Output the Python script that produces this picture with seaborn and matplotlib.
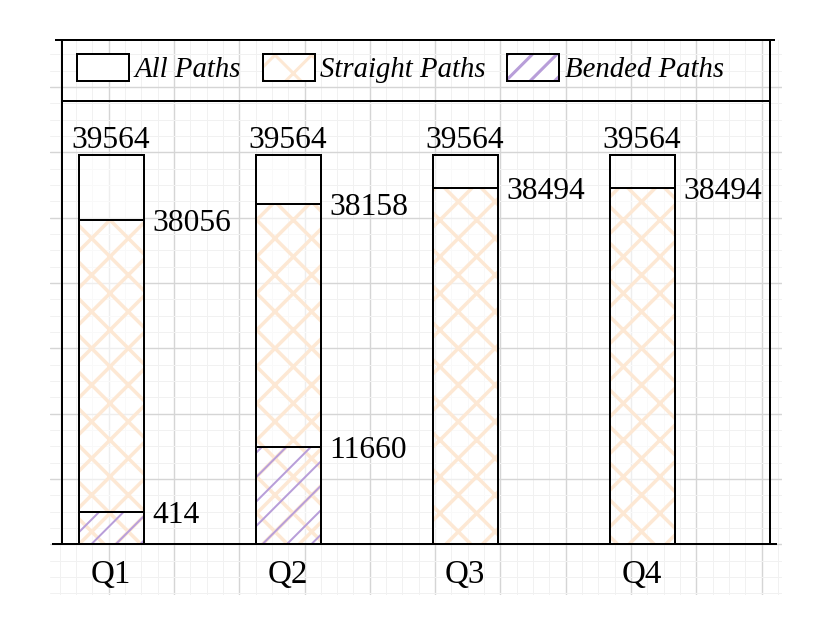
"""
Path counts per quadrant: all / straight / bended paths drawn as overlaid bars.
"""

import numpy as np
import matplotlib
matplotlib.use("Agg")
import matplotlib.pyplot as plt
from matplotlib.patches import Patch, Rectangle
from matplotlib.ticker import MultipleLocator
import seaborn as sns

# data
quarters = ["Q1", "Q2", "Q3", "Q4"]
all_paths = [39564, 39564, 39564, 39564]
straight_paths = [38056, 38158, 38494, 38494]
bended_paths = [414, 11660, 0, 0]

# figure is laid out in pixels; PT converts a pixel size to points
DPI = 220
W, H = 830, 633
PT = 72 / DPI

sns.set_style("white")
plt.rcParams["font.family"] = ["Liberation Serif", "DejaVu Serif"]
plt.rcParams["text.color"] = "black"
plt.rcParams["xtick.color"] = "black"
plt.rcParams["axes.labelcolor"] = "black"

EDGE = 2 * PT
ORANGE = "#fde8d4"
PURPLE = "#b89ed9"
FS = 31.5 * PT

fig = plt.figure(figsize=(W / DPI, H / DPI), dpi=DPI)


def px_axes(left, top, right, bottom):
    return [left / W, (H - bottom) / H, (right - left) / W, (bottom - top) / H]


# graph-paper background behind the chart
bg = fig.add_axes(px_axes(50, 40, 782, 595), zorder=0)
bg.set_xlim(50, 782)
bg.set_ylim(595, 40)
bg.xaxis.set_major_locator(MultipleLocator(65.3, offset=43.3))
bg.xaxis.set_minor_locator(MultipleLocator(65.3 / 4, offset=43.3 % (65.3 / 4)))
bg.yaxis.set_major_locator(MultipleLocator(65.3, offset=21.8))
bg.yaxis.set_minor_locator(MultipleLocator(65.3 / 4, offset=21.8 % (65.3 / 4)))
bg.grid(which="major", color="#d5d5d5", linewidth=1.4 * PT)
bg.grid(which="minor", color="#f1f1f1", linewidth=1.0 * PT)
bg.tick_params(which="both", length=0, labelbottom=False, labelleft=False)
for s in bg.spines.values():
    s.set_visible(False)
bg.set_facecolor("none")

# main chart
ax = fig.add_axes(px_axes(62, 40, 770, 544), zorder=1)
ax.set_facecolor("none")

BAR_W = 0.367


def draw_layer(values, face, edge, hatch=None, hatch_lw=3.0):
    n0 = len(ax.patches)
    with plt.rc_context({"hatch.linewidth": hatch_lw * PT}):
        sns.barplot(x=quarters, y=values, color="white", width=BAR_W,
                    errorbar=None, ax=ax, hatch=hatch, edgecolor=edge,
                    linewidth=0 if hatch else EDGE, saturation=1)
    bars = list(ax.patches[n0:])
    for p in bars:
        p.set_facecolor(face)
        if hatch:
            if hasattr(p, "set_hatch_linewidth"):
                p.set_hatch_linewidth(hatch_lw * PT)
            ax.add_patch(Rectangle(p.get_xy(), p.get_width(), p.get_height(),
                                   fill=False, edgecolor="black", linewidth=EDGE))


draw_layer(all_paths, (1, 1, 1, 0.6), "black")
draw_layer(straight_paths, "none", ORANGE, hatch="xx", hatch_lw=3.5)
draw_layer([b if b > 0 else np.nan for b in bended_paths], "none", PURPLE,
           hatch="///", hatch_lw=2.0)

# the y scale of the original is not linear: map each value to its drawn height (px)
knot_vals = sorted(set(all_paths + straight_paths + bended_paths))
knot_px = [0, 32, 97, 324, 340, 356, 389]
knot_vals = knot_vals + [knot_vals[-1] + 6000]
knot_px = knot_px + [530]


def fwd(v):
    return np.interp(v, knot_vals, knot_px)


def inv(p):
    return np.interp(p, knot_px, knot_vals)


ax.set_yscale("function", functions=(fwd, inv))
ax.set_ylim(0, inv(504))
ax.set_xlim(-0.277, 3.723)
ax.set_yticks([])
ax.set_xlabel("")
ax.set_ylabel("")
ax.tick_params(axis="x", length=0, pad=16 * PT, labelsize=33 * PT)

# frame: side spines plus longer top/bottom rules
for side in ["top", "bottom"]:
    ax.spines[side].set_visible(False)
for side in ["left", "right"]:
    ax.spines[side].set_linewidth(EDGE)
    ax.spines[side].set_color("black")
ax.plot([-7 / 708, 713 / 708], [1, 1], transform=ax.transAxes, color="black",
        linewidth=EDGE, clip_on=False, solid_capstyle="butt")
ax.plot([-10 / 708, 715 / 708], [0, 0], transform=ax.transAxes, color="black",
        linewidth=EDGE, clip_on=False, solid_capstyle="butt")
ax.plot([0, 1], [443 / 504, 443 / 504], transform=ax.transAxes, color="black",
        linewidth=EDGE, clip_on=False, solid_capstyle="butt")

# value labels
for i, v in enumerate(all_paths):
    ax.annotate(f"{v}", xy=(i, v), xytext=(0, 7 * PT), textcoords="offset points",
                ha="center", va="baseline", fontsize=FS)
for series in (straight_paths, bended_paths):
    for i, v in enumerate(series):
        if v <= 0:
            continue
        ax.annotate(f"{v}", xy=(i + BAR_W / 2, v), xytext=(9 * PT, -11 * PT),
                    textcoords="offset points", ha="left", va="baseline", fontsize=FS)

# legend
outline = dict(facecolor="none", edgecolor="black", linewidth=EDGE)
handles = [
    Patch(facecolor="white", edgecolor="black", linewidth=EDGE),
    (Patch(facecolor="white", edgecolor=ORANGE, hatch="xx", linewidth=0), Patch(**outline)),
    (Patch(facecolor="white", edgecolor=PURPLE, hatch="///", linewidth=0), Patch(**outline)),
]
LFS = 28.7
ax.legend(handles, ["All Paths", "Straight Paths", "Bended Paths"], ncol=3,
          loc="upper left", bbox_to_anchor=(15 / 708, (544 - 54) / 504),
          frameon=False, borderpad=0, borderaxespad=0,
          prop={"style": "italic", "size": LFS * PT},
          handlelength=52 / LFS, handleheight=30 / LFS,
          handletextpad=6 / LFS, columnspacing=21 / LFS)

fig.savefig("out.png", dpi=DPI)
